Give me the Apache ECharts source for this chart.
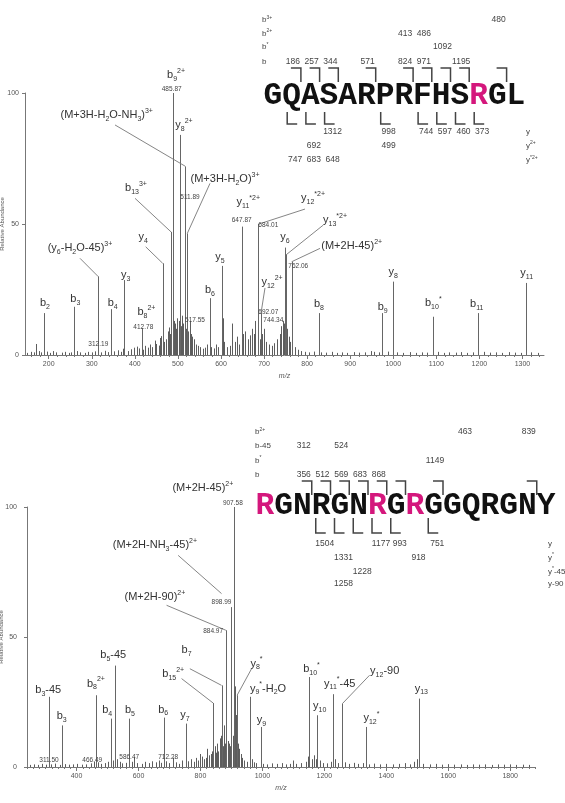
<!DOCTYPE html>
<html><head><meta charset="utf-8">
<script src="https://cdn.jsdelivr.net/npm/echarts@6/dist/echarts.min.js"></script>
<style>html,body{margin:0;padding:0;background:#fff}#c{width:565px;height:803px}</style>
</head><body><div id="c"></div>
<script>
// ---------------- DATA: top spectrum ----------------
const topXTicks = [200,300,400,500,600,700,800,900,1000,1100,1200,1300];
const yTicks = [0,50,100];
const topPeaks = [[188,16],[259,18.4],[315,30],[345,17.5],[376,28.6],[416,10.3],[464.5,35],[484,47],[488,100],[505,84],[516.5,72],[521.8,46.4],[574.5,21.7],[601.5,34],[649,49],[687,50],[693,16],[748.6,41],[751,38.2],[764.2,35.6],[827.6,16],[973,16],[1000,28],[1093,14.6],[1196,16],[1309,27.5]];
const topNoise = [[150,0.8],[158,1.2],[165,1],[171,4.2],[177,1.5],[183,1],[195,1.3],[203,0.8],[211,1.5],[218,1],[230,0.9],[238,1.2],[246,0.8],[252,1],[266,1.5],[272,1],[284,0.8],[291,1.2],[300,1],[307,1.4],[322,1],[330,1.6],[338,1.1],[352,1.4],[360,1.8],[368,1.2],[372,2.4],[385,1.5],[392,2.2],[398,2.8],[404,3.2],[409,2.5],[418,2],[424,3.5],[430,2.8],[436,4],[441,3],[446,5.5],[450,4.2],[455,3.6],[458,6.5],[461,7.2],[468,5],[472,6],[476,9],[479,10.5],[482,8],[485,11],[490,13],[493,12],[496,10],[499,14],[503,13],[507,11],[510,15],[513,12],[518,10],[524,9],[527,13],[530,8],[533,7],[537,6],[542,4],[547,3.5],[552,3],[558,2.4],[563,2.8],[568,4],[578,3],[583,2.5],[588,4],[593,3],[604,14],[608,5],[614,3],[620,3.5],[626,12],[632,5],[637,7],[642,4],[652,8],[656,9],[662,6],[667,7.5],[672,10],[676,8],[680,13],[690,6],[695,8],[700,10],[705,5],[712,4],[718,3.5],[723,4.5],[730,6],[736,8],[740,11],[744,13],[746,12],[754,10],[757,7],[760,5],[766,4],[772,3],[778,2],[785,1.5],[795,1.2],[805,1],[815,1.3],[833,1],[845,0.9],[858,1.2],[870,0.8],[882,1],[893,0.8],[908,1.1],[920,0.9],[935,1],[948,1.5],[955,1.2],[966,1],[988,1.3],[1008,1],[1022,0.8],[1038,1.1],[1052,0.8],[1066,1],[1078,0.9],[1105,1.2],[1118,0.8],[1130,1],[1145,0.9],[1158,1.1],[1172,0.8],[1186,1],[1210,1.2],[1225,0.9],[1238,1],[1252,0.8],[1268,1.1],[1282,0.9],[1296,0.8],[1320,1],[1335,0.8]];
const topLabels = [['b_{2}',191.4,19.8],['b_{3}',261.8,21.3],['b_{4}',348.6,19.7],['y_{3}',378.8,30.5],['b_{8}^{2+}',427,16.5],['(y_{6}-H_{2}O-45)^{3+}',272.7,40.8],['y_{4}',419.7,45.2],['b_{13}^{3+}',402.7,63.7],['b_{9}^{2+}',495.6,106.9],['y_{8}^{2+}',514.2,87.8],['(M+3H-H_{2}O-NH_{3})^{3+}',334.7,91.6],['(M+3H-H_{2}O)^{3+}',609.4,67.1],['b_{6}',574.5,24.8],['y_{5}',597.7,37.5],['y_{11}^{*2+}',663.5,58.5],['y_{12}^{*2+}',813.7,59.9],['y_{12}^{2+}',718.5,27.9],['y_{6}',748.7,45.2],['y_{13}^{*2+}',864.8,51.5],['(M+2H-45)^{2+}',903.5,41.7],['b_{8}',827.6,19.5],['b_{9}',975.5,18.4],['y_{8}',1000.1,31.6],['b_{10}^{*}',1093,19.7],['b_{11}',1193.8,19.5],['y_{11}',1309.8,31.2]];
const topNumbers = [['412.78',419.7,10.8],['312.19',315.2,4.1],['485.87',485.6,101.5],['511.89',528.1,60.4],['517.55',539.7,13.1],['647.87',648.1,51.3],['684.01',709.9,49.6],['692.07',709.9,16.3],['744.34',721.5,13.1],['762.06',779.5,34]];
const topLeaders = [[272.7,36.9,315.2,29.9],[425.2,41.3,464.7,35],[400.4,59.8,484,47],[354,87.8,516.5,72.1],[574.5,65.5,521.8,46.4],[795,55.7,688.3,50],[702.2,25.6,693,16],[837.6,49.6,751,38.2],[830,40.7,764.2,35.6]];

// ---------------- DATA: bottom spectrum ----------------
const botXTicks = [400,600,800,1000,1200,1400,1600,1800];
const botPeaks = [[311,27],[354,16],[462,27.6],[511,18.6],[524,39],[569,18.6],[683,19],[752,16.7],[841,24.6],[868,31.4],[884,52.6],[900,61.5],[908.7,100],[918.4,27.6],[958.4,27],[994,15.4],[1149.7,34.6],[1176.5,19.9],[1228,28],[1258.4,24.4],[1335.8,15.4],[1504.5,26.3]];
const botNoise = [[250,0.8],[262,1],[275,0.8],[288,1.2],[300,0.9],[318,1],[330,1.3],[345,0.8],[362,1.1],[375,0.9],[388,1],[402,1.2],[418,0.9],[432,1],[447,1.4],[455,2],[470,1.8],[480,1.2],[492,1.5],[500,2],[517,2.5],[530,3],[540,2],[548,1.4],[560,1.6],[578,2],[586,3.8],[595,1.5],[610,1.2],[622,2],[635,1.5],[645,2.2],[655,1.8],[665,2.5],[672,1.6],[690,2.2],[700,1.5],[712,3.6],[722,1.8],[730,1.2],[740,2.5],[760,2.2],[770,3],[778,2],[785,3.5],[792,2.5],[798,5],[805,4],[812,3],[818,3.5],[822,7],[828,4.5],[833,5],[838,6],[846,8],[850,5.5],[854,9],[858,6],[862,11],[865,12],[872,8],[876,16],[880,9],[888,10],[892,9],[895,8],[897,11],[904,12],[911,31],[914,20],[922,9],[926,7],[930,5],[935,3.5],[942,2.5],[950,2],[965,3],[972,1.8],[980,1.5],[1002,1.2],[1015,1],[1030,1.4],[1048,1.2],[1062,1.5],[1075,1],[1090,1.2],[1100,2.5],[1110,1.2],[1125,1.5],[1140,2],[1146,4],[1160,3],[1165,4.5],[1172,3],[1185,2.5],[1195,1.5],[1210,1.4],[1222,2],[1235,3],[1245,1.5],[1268,1.8],[1280,1.2],[1295,1.6],[1310,1.2],[1325,1.5],[1345,1],[1360,1.3],[1380,1],[1398,1.2],[1420,1],[1440,1.2],[1460,1.5],[1475,1],[1490,2],[1500,3],[1520,1.2],[1540,1],[1560,1.2],[1580,0.9],[1600,1.1],[1620,0.9],[1640,1],[1660,0.8],[1680,1],[1700,0.9],[1720,1],[1740,0.8],[1760,1],[1780,0.9],[1800,1],[1820,0.8],[1840,0.9],[1860,0.8]];
const botLabels = [['b_{3}-45',308.7,29.5],['b_{3}',352,19.5],['b_{8}^{2+}',462.6,32.1],['b_{4}',499,21.8],['b_{5}-45',518.4,43],['b_{5}',572.3,21.8],['b_{6}',679.7,22.1],['y_{7}',749.7,19.9],['b_{15}^{2+}',712,35.9],['b_{7}',755,44.9],['(M+2H-90)^{2+}',652.9,65.4],['(M+2H-NH_{3}-45)^{2+}',652.9,85.3],['(M+2H-45)^{2+}',807.7,107.2],['y_{8}^{*}',981,39.8],['y_{9}^{*}-H_{2}O',1018,30.2],['y_{9}',997,18.2],['b_{10}^{*}',1158.4,37.8],['y_{10}',1185,23.3],['y_{11}^{*}-45',1249.7,32.1],['y_{12}-90',1394.8,36.9],['y_{12}^{*}',1352,19],['y_{13}',1513,30.2]];
const botNumbers = [['311.50',311,2.6],['466.49',450.6,2.6],['586.47',570,3.8],['712.28',695.8,3.6],['884.97',841,52.2],['898.99',868,63.5],['907.58',904.5,101.5]];
const botLeaders = [[739,34,841,24.6],[765.8,37.8,868,31.4],[690.6,62.2,881.9,52.6],[728,81.4,868,66.7],[965,37.8,918.4,27.6],[1346,35.3,1258.4,24.4]];

// ---------------- DATA: sequences ----------------
const topSeq = 'GQASARPRFHSRGL';
const topSeqMod = [11];
const topBCuts = [2,3,4,6,8,9,10,11,13];
const topYCuts = [1,2,3,6,8,9,10,11];
const topBRows = [['b^{3+}',[[13,'480']]],['b^{2+}',[[8,'413'],[9,'486']]],['b^{*}',[[10,'1092']]],['b',[[2,'186'],[3,'257'],[4,'344'],[6,'571'],[8,'824'],[9,'971'],[11,'1195']]]];
const topYRows = [['y',[[3,'1312'],[6,'998'],[8,'744'],[9,'597'],[10,'460'],[11,'373']]],['y^{2+}',[[2,'692'],[6,'499']]],['y^{*2+}',[[1,'747'],[2,'683'],[3,'648']]]];

const botSeq = 'RGNRGNRGRGGQRGNY';
const botSeqMod = [0,6,8];
const botBCuts = [3,4,5,6,7,8,10,15];
const botYCuts = [3,4,5,6,7,9];
const botBRows = [['b^{2+}',[[11.6,'463'],[15,'839']]],['b-45',[[3,'312'],[5,'524']]],['b^{*}',[[10,'1149']]],['b',[[3,'356'],[4,'512'],[5,'569'],[6,'683'],[7,'868']]]];
const botYRows = [['y',[[3,'1504'],[6,'1177'],[7,'993'],[9,'751']]],['y^{*}',[[4,'1331'],[8,'918']]],['y^{*}-45',[[5,'1228']]],['y-90',[[4,'1258']]]];

// ---------------- rendering ----------------
const FONT = '"Liberation Sans", Arial, Helvetica, sans-serif';
const MONO = '"Liberation Mono", "DejaVu Sans Mono", monospace';
const PINK = '#d4177c';
function toRich(s){
  return s.replace(/_\{([^}]*)\}/g,'{s|$1}').replace(/\^\{([^}]*)\}/g,'{p|$1}');
}
function richStyles(sz){
  return {s:{fontSize:sz, lineHeight:sz, verticalAlign:'bottom', fontFamily:FONT},
          p:{fontSize:sz, lineHeight:sz, verticalAlign:'top', fontFamily:FONT}};
}
function ticksEvery(min,max,step){const a=[];for(let v=Math.ceil(min/step)*step;v<=max;v+=step)a.push(v);return a;}

function stickSeries(gi, data, color, width){
  return {type:'custom', xAxisIndex:gi*2, yAxisIndex:gi, coordinateSystem:'cartesian2d', silent:true, clip:true,
    data:data, encode:{x:0,y:1},
    renderItem:function(p,api){
      const a=api.coord([api.value(0),0]), b=api.coord([api.value(0),api.value(1)]);
      const x=Math.round(a[0])+0.5;
      return {type:'line', shape:{x1:x,y1:a[1],x2:x,y2:b[1]}, style:{stroke:color,lineWidth:width}};
    }};
}
function leaderSeries(gi, data){
  return {type:'custom', xAxisIndex:gi*2, yAxisIndex:gi, coordinateSystem:'cartesian2d', silent:true, clip:false,
    data:data, encode:{x:[0,2],y:[1,3]},
    renderItem:function(p,api){
      const a=api.coord([api.value(0),api.value(1)]), b=api.coord([api.value(2),api.value(3)]);
      return {type:'line', shape:{x1:a[0],y1:a[1],x2:b[0],y2:b[1]}, style:{stroke:'#777',lineWidth:0.9}};
    }};
}
function textSeries(gi, items, fs, subfs, color, lh){
  return {type:'custom', xAxisIndex:gi*2, yAxisIndex:gi, coordinateSystem:'cartesian2d', silent:true, clip:false,
    data:items.map((it,i)=>[it[1],it[2],i]), encode:{x:0,y:1},
    renderItem:function(p,api){
      const c=api.coord([api.value(0),api.value(1)]);
      const t=items[api.value(2)][0];
      return {type:'text', x:c[0], y:c[1], style:{text:toRich(t), rich:richStyles(subfs), fontSize:fs, lineHeight:lh,
        fontFamily:FONT, fill:color, align:'center', verticalAlign:'middle'}};
    }};
}

function seqGraphics(seq, mods, x0, cw, yMid, bCuts, yCuts, bTop, bBot, lTop, lBot, lOff, bRows, bRowY, bLabX, yRows, yRowY, yLabX, bNumOff, yNumOff){
  const els=[];
  const fs=cw/0.6;
  for(let i=0;i<seq.length;i++){
    els.push({type:'text', x:x0+cw*(i+0.5), y:yMid, style:{text:seq[i], font:'bold '+fs+'px '+MONO, fill:mods.indexOf(i)>=0?PINK:'#111', align:'center', verticalAlign:'middle'}});
  }
  bCuts.forEach(k=>{const x=x0+cw*k;
    els.push({type:'polyline', shape:{points:[[x-10,bTop],[x,bTop],[x,bBot]]}, style:{stroke:'#444',lineWidth:1.5,fill:null}});});
  yCuts.forEach(k=>{const x=x0+cw*k+lOff;
    els.push({type:'polyline', shape:{points:[[x,lTop],[x,lBot],[x+10,lBot]]}, style:{stroke:'#444',lineWidth:1.5,fill:null}});});
  bRows.forEach((r,ri)=>{
    els.push({type:'text', x:bLabX, y:bRowY[ri], style:{text:toRich(r[0]), rich:richStyles(5), fontSize:8, lineHeight:10, fontFamily:FONT, fill:'#444', align:'left', verticalAlign:'middle'}});
    r[1].forEach(it=>els.push({type:'text', x:x0+cw*it[0]+bNumOff, y:bRowY[ri], style:{text:it[1], fontSize:8.5, fontFamily:FONT, fill:'#444', align:'center', verticalAlign:'middle'}}));
  });
  yRows.forEach((r,ri)=>{
    els.push({type:'text', x:yLabX, y:yRowY[ri], style:{text:toRich(r[0]), rich:richStyles(5), fontSize:8, lineHeight:10, fontFamily:FONT, fill:'#444', align:'left', verticalAlign:'middle'}});
    r[1].forEach(it=>els.push({type:'text', x:x0+cw*it[0]+lOff+yNumOff, y:yRowY[ri], style:{text:it[1], fontSize:8.5, fontFamily:FONT, fill:'#444', align:'center', verticalAlign:'middle'}}));
  });
  return els;
}

const axisCol='#777', labCol='#555';
function xAxes(gi, min, max, ticks){
  return [{gridIndex:gi, type:'value', min:min, max:max, position:'bottom',
      axisLine:{show:true,lineStyle:{color:axisCol,width:1}},
      axisTick:{show:true, customValues:ticks, length:4, lineStyle:{color:axisCol}},
      axisLabel:{show:true, customValues:ticks, fontSize:7, color:labCol, margin:6, fontFamily:FONT, formatter:v=>String(v)},
      splitLine:{show:false},
      name:'m/z', nameLocation:'middle', nameGap:18, nameMoveOverlap:false, nameTextStyle:{fontSize:7, fontStyle:'italic', color:labCol, fontFamily:FONT}},
    {gridIndex:gi, type:'value', min:min, max:max, position:'bottom',
      axisLine:{show:false}, axisTick:{show:true, customValues:ticksEvery(min,max,20), length:2, lineStyle:{color:axisCol}},
      axisLabel:{show:false}, splitLine:{show:false}}];
}
function yAxis(gi, margin, gap){
  return {gridIndex:gi, type:'value', min:0, max:100, interval:50,
    axisLine:{show:true,lineStyle:{color:axisCol,width:1}}, axisTick:{show:true,length:3,lineStyle:{color:axisCol}},
    axisLabel:{fontSize:7, color:labCol, margin:margin, fontFamily:FONT, formatter:v=>String(v)}, splitLine:{show:false},
    name:'Relative Abundance', nameLocation:'middle', nameGap:gap, nameMoveOverlap:false, nameTextStyle:{fontSize:6, color:labCol, fontFamily:FONT}};
}

const chart = echarts.init(document.getElementById('c'), null, {renderer:'canvas'});
chart.setOption({
  animation:false, backgroundColor:'#fff',
  grid:[{left:25, top:93, width:519, height:262, containLabel:false, outerBoundsMode:'none'},
        {left:27, top:507, width:508, height:260, containLabel:false, outerBoundsMode:'none'}],
  xAxis:[].concat(xAxes(0,145,1350,topXTicks), xAxes(1,240,1880,botXTicks)),
  yAxis:[yAxis(0,6,20), yAxis(1,10,23)],
  series:[
    stickSeries(0, topNoise, '#333', 0.8),
    stickSeries(0, topPeaks, '#666', 1),
    leaderSeries(0, topLeaders),
    textSeries(0, topLabels, 11, 7, '#333', 15),
    textSeries(0, topNumbers, 6.5, 5, '#444', 8),
    stickSeries(1, botNoise, '#333', 0.8),
    stickSeries(1, botPeaks, '#666', 1),
    leaderSeries(1, botLeaders),
    textSeries(1, botLabels, 11, 7, '#333', 15),
    textSeries(1, botNumbers, 6.5, 5, '#444', 8)
  ],
  graphic:{elements:[].concat(
    seqGraphics(topSeq, topSeqMod, 263.5, 18.7, 96, topBCuts, topYCuts, 68, 82, 112, 124, 5, topBRows, [20,33.5,47,62], 262, topYRows, [132,145.5,160], 526, -8, 8),
    seqGraphics(botSeq, botSeqMod, 255.5, 18.75, 506.5, botBCuts, botYCuts, 481, 495, 518, 533, 4, botBRows, [432,446,460.5,474.5], 255, botYRows, [543.5,557.5,571.5,584], 548, -8, 9)
  )}
});
</script></body></html>
